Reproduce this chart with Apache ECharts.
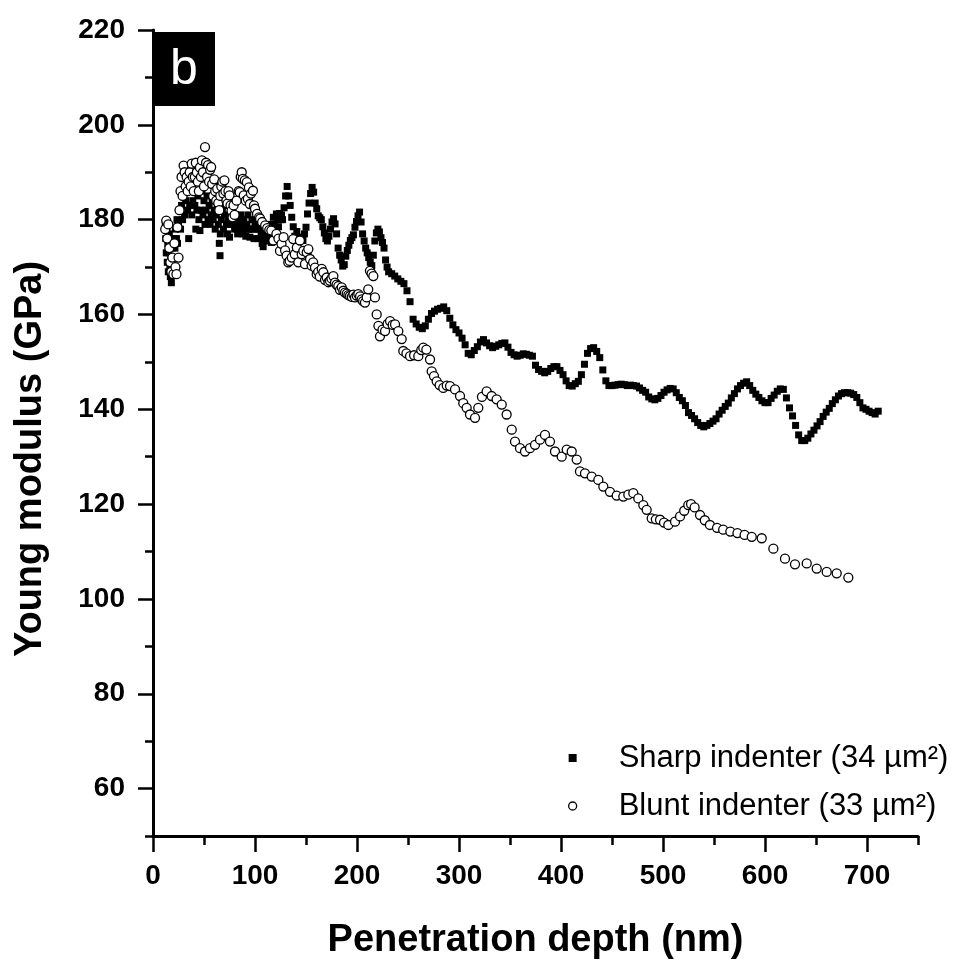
<!DOCTYPE html>
<html><head><meta charset="utf-8">
<script src="https://cdn.jsdelivr.net/npm/echarts@6/dist/echarts.min.js"></script>
<style>html,body{margin:0;padding:0;background:#fff}#c{width:960px;height:965px}</style>
</head><body><div id="c"></div>
<script>
// Sharp indenter: [depth nm, modulus GPa]
const sharpEarly = [[12,179],[12.5,176],[13,173],[13.5,178],[14,171],[14.5,175],[15,169],[15.5,173],[16,177],[16.5,170],[17,168],[17.5,172],[18,166.7],[18.5,170],[19,174],[19.5,168.5],[20,172],[20.5,176],[21,170],[21.5,174],[22,178],[22.5,172],[23,176],[23.5,180],[24,175],[25,179],[26,182],[27,178],[28,183],[29,180],[30,185],[31,181],[32,184],[33,187],[34,182],[35,176],[36,183],[37,186],[38,181],[39,184],[40,188],[41,183],[42,178],[43,182],[44,185],[45,180],[46,177.7],[47,182],[48,186],[49,181],[50,184],[51,179],[52,182],[53,185],[54,180],[55,183],[56,179],[57,181],[58,184],[59,180],[60,182],[61,178],[62,181],[63,183],[64,179],[65,175],[65.7,172.4],[66,177],[67,180],[68,182],[69,178],[70,181],[71,183],[72,179],[73,177],[74,180],[75,176.3],[76,179],[77,181],[78,183],[79,180],[80,178],[81,181],[82,179],[83,177],[84,180],[85,178],[86,181],[87,179],[88,177],[89,180],[90,178],[91,176.5],[92,179],[93,181],[94,178],[95,176.3],[96,178],[97,180],[98,178],[99,176],[100,179],[101,181],[102,178],[103,176],[104,178],[105,180],[106,177],[107,175],[108,174.3],[109,176],[110,178],[111,177],[112,175.5],[113,177],[114,179],[115,176],[116,175.2],[117,177],[118,180.5],[119,179],[120,178],[121,181.2],[122,180],[123,178.5],[124,181.3],[125,180],[126,181],[127,180]];
const sharpMid = [[128.5,182.5],[130,185],[131.5,187],[133,185],[134.5,183],[136,180.5],[137.5,178.5],[139,176.5],[141,177.5],[143,176.3],[145,175.8],[147,175.6],[148.5,177],[150,178.4],[151.5,181.2],[153,183.5],[154.5,185.5],[156,186.8],[157.5,185.8],[159,183.5],[160.5,182.3],[162,180.8],[163.5,180.4],[165,180],[166.5,178.5],[168,177.2],[169.5,176],[171,175.5],[172.5,176.5],[174,178],[175.5,179.5],[177,180.2],[178.5,179.1],[180,177],[181.5,174],[183,172.5],[184.5,171.5],[186,170.2],[187.5,170.5],[189,172.3],[190.5,173.5],[192,174.6],[193.5,175.6],[195,176.2],[196.5,176.8],[198,178.4],[199.5,179.6],[201,180.8],[202.5,181.6],[204,179.5],[205.5,177],[207,175.5],[208.5,174],[210,173],[211.5,172],[213,171],[214.5,170.3],[216,172.5],[217.5,175.5],[219,177.2],[220.5,178],[222,177.4],[223.5,176.2],[225,175.2],[226.5,174],[228,171.5],[229.5,170]];
const sharpLate = [[231,169.0],[234,168.6],[237,168.1],[240,167.5],[243,167.0],[246,166.5],[249,165.0],[252,162.7],[255,159.0],[258,158.0],[261,157.3],[264,157.0],[267,157.6],[270,159.0],[273,160.2],[276,160.7],[279,161.1],[282,161.3],[285,161.6],[288,160.8],[291,159.2],[294,157.8],[297,156.8],[300,156.1],[303,155.0],[306,153.6],[309,151.8],[312,151.5],[315,152.4],[318,153.2],[321,154.2],[324,154.7],[327,154.0],[330,153.4],[333,153.0],[336,153.3],[339,153.6],[342,153.9],[345,154.0],[348,153.1],[351,152.0],[354,151.5],[357,151.2],[360,151.4],[363,151.7],[366,151.6],[369,151.4],[372,151.2],[375,149.3],[378,148.4],[381,148.0],[384,147.7],[387,148.0],[390,148.6],[393,149.0],[396,149.0],[399,148.2],[402,147.3],[405,146.0],[408,145.0],[411,144.9],[414,145.4],[417,145.9],[420,147.3],[423,149.5],[426,151.8],[429,152.8],[432,153.0],[435,152.2],[438,150.9],[441,148.3],[444,146.0],[447,145.0],[450,145.0],[453,145.1],[456,145.2],[459,145.3],[462,145.2],[465,145.0],[468,145.1],[471,145.0],[474,144.9],[477,144.5],[480,144.0],[483,143.6],[486,142.6],[489,142.2],[492,142.0],[495,142.3],[498,142.9],[501,143.6],[504,144.1],[507,144.4],[510,144.3],[513,143.5],[516,142.5],[519,141.8],[522,140.8],[525,139.3],[528,138.7],[531,138.0],[534,137.2],[537,136.6],[540,136.3],[543,136.6],[546,137.0],[549,137.5],[552,138.0],[555,139.0],[558,139.8],[561,140.6],[564,141.3],[567,142.4],[570,143.3],[573,144.3],[576,145.0],[579,145.5],[582,145.8],[585,145.0],[588,144.0],[591,143.2],[594,142.5],[597,141.8],[600,141.4],[603,141.4],[606,142.3],[609,143.0],[612,143.8],[615,144.3],[618,144.2],[621,142.4],[624,140.3],[627,138.6],[630,136.6],[633,134.6],[636,133.4],[639,133.4],[642,133.9],[645,134.8],[648,135.6],[651,136.5],[654,137.4],[657,138.5],[660,139.4],[663,140.2],[666,141.2],[669,142.0],[672,142.8],[675,143.3],[678,143.5],[681,143.5],[684,143.4],[687,143.1],[690,142.5],[693,141.4],[696,140.3],[699,140.0],[702,139.6],[705,139.3],[708,139.0],[711,139.6]];

// Blunt indenter: [depth nm, modulus GPa]
const bluntEarly = [[12,178],[13,179.8],[14,176],[15,179],[16,174],[17,171],[18,169],[19,172],[20,168.5],[21,175],[22,170],[23,168.5],[24,178.4],[25,172],[26,182],[27,186],[28,189],[29,185],[30,191.4],[31,190],[32,187],[33,189],[34,186],[35,188],[36,190],[37,187],[38,191.8],[39,189],[40,186],[41,189],[42,192],[43,190],[44,188],[45,186],[46,191],[47,189],[48,192.5],[49,190],[50,187],[51,195.3],[52,192],[53,189],[54,191.5],[55,188],[56,190.5],[57,191.1],[58,187.5],[59,185],[60,188.5],[61,186],[62,184],[63,186.5],[64,183.5],[65,182],[66,185],[67,187],[68,188],[69,185.5],[70,188.3],[71,186],[72,184],[73,183.4],[74,186],[75,185.1],[76,183],[77,181.9],[78,180.5],[79,183],[80,181],[82,184],[84,186],[85,185.8],[86,189],[87,190],[88,188.6],[89,185.1],[90,188.3],[91,184],[92,187.9],[93,184.4],[94,186.8],[95,183.3],[96,185.5],[98,186.1],[99,183],[100,182.3],[102,181.2],[104,180.5],[105,180.2],[107,179.5],[110,178.8],[112,178.2],[114,177.8],[116,177.7],[118,175.6],[121,177],[123,176],[124.5,173.4],[126,174.9],[128,176.3],[129.5,173.5],[131,172.4],[132.6,171],[134,171.3],[136,172],[137.5,175.9],[139,172.7],[141,174.1],[142.5,171],[144,175.6],[145.8,172.7],[147.4,173.4],[149,170.6],[150.7,173.1],[152.3,173.8],[154,171.7],[155.5,170.3],[157,171],[158.8,169.9],[160.5,168.5],[162,169],[163.5,168],[165.4,169.6],[167,168.9],[168.6,167.3],[170.3,167.8],[172,166.8],[173.5,167.1],[175,167.6],[176.8,168.1],[178.4,166.7],[180,166.3],[181.7,166],[183.3,165.2],[185,165.7],[186.6,165],[188.2,164.6],[190,164.4],[191.5,164.1],[193.1,163.9],[195,163.7],[196.5,164.2],[198,163.6],[199.7,164],[201.3,164.3],[203,163.8],[204.6,163.2],[206,162.8],[207.8,162.5],[209.5,163.6],[211,165.3],[212.7,169.2],[214.3,168.6]];
const bluntLate = [[216,168.1],[217.6,163.6],[219.3,160],[221,157.6],[222.5,155.4],[225,156.8],[227.5,156.5],[230,158],[232.4,158.6],[235,157.8],[237.3,157.9],[240.5,156.5],[243.8,154.8],[245.4,152.3],[248.5,151.8],[252,151.2],[256,151.4],[260.1,151.2],[263,152.5],[265,153],[268,152.6],[271.6,150.5],[273.2,148],[275.5,147],[278.1,145.9],[281,145.1],[284.6,144.5],[288,145],[291.2,144.9],[296.1,144.2],[301,142.8],[304.2,141.3],[307.5,140.3],[310.8,138.9],[315.7,138.2],[318.9,140.3],[322.5,142.6],[327.1,143.8],[332,142.8],[336.9,142.1],[341.9,141],[346.7,138.9],[351.7,135.7],[354.9,133.2],[359.8,131.8],[364.7,131.1],[369.6,131.8],[374.5,132.5],[379.4,133.6],[384.3,134.6],[389.2,133.2],[394.1,131.1],[400.7,130],[405.6,131.5],[410.5,131.1],[415.4,129.4],[418.6,126.9],[423.5,126.5],[430.1,125.8],[436.6,125.1],[441.5,123.7],[448,122.6],[454.6,121.8],[461.1,121.6],[466,122],[470.9,122.3],[475.8,121.2],[480.7,119.8],[484,118.8],[488.9,117],[493,116.8],[497.1,116.7],[501,116.1],[505.2,115.6],[511.8,116.3],[516.7,117.4],[520.8,118.6],[524.8,119.8],[527.5,120],[531,119.3],[536.3,117.7],[541,116.6],[546,115.6],[553,115],[559,114.6],[566,114.2],[573,113.9],[580,113.5],[587,113.1],[596.8,112.8],[608.2,110.6],[619.6,108.5],[629.4,107.3],[640.9,107.5],[650.7,106.4],[660.5,105.7],[670.3,105.4],[681.7,104.5]];

const xMajorTicks = [0,100,200,300,400,500,600,700];
const yMajorTicks = [60,80,100,120,140,160,180,200,220];
const seriesNames = ['Sharp indenter (34 \u00b5m\u00b2)', 'Blunt indenter (33 \u00b5m\u00b2)'];

const FONT = '"Liberation Sans", Arial, Helvetica, sans-serif';
const chart = echarts.init(document.getElementById('c'), null, {renderer:'canvas'});

const tickStyle = {color:'#000', width:2.5};
const option = {
  animation:false,
  backgroundColor:'#fff',
  grid:{left:153, right:42, top:30, bottom:129},
  xAxis:[{
    type:'value', min:0, max:750, interval:50,
    axisLine:{lineStyle:{color:'#000', width:3}},
    axisTick:{length:9, lineStyle:tickStyle},
    axisLabel:{margin:26, color:'#000', fontSize:28, fontWeight:'bold', fontFamily:FONT,
      formatter:v => xMajorTicks.indexOf(v) >= 0 ? String(v) : ''},
    splitLine:{show:false},
    name:'Penetration depth (nm)', nameLocation:'middle', nameGap:86,
    nameTextStyle:{fontSize:38, fontWeight:'bold', color:'#000', fontFamily:FONT}
  },{
    type:'value', min:0, max:750, position:'bottom', gridIndex:0,
    axisLine:{show:false}, axisLabel:{show:false}, splitLine:{show:false},
    axisTick:{customValues:xMajorTicks, length:16, lineStyle:tickStyle}
  }],
  yAxis:[{
    type:'value', min:50, max:220, interval:10,
    axisLine:{show:true, lineStyle:{color:'#000', width:3}},
    axisTick:{show:true, length:8, lineStyle:tickStyle},
    axisLabel:{margin:28, color:'#000', fontSize:28, fontWeight:'bold', fontFamily:FONT,
      formatter:v => yMajorTicks.indexOf(v) >= 0 ? String(v) : ''},
    splitLine:{show:false}
  },{
    type:'value', min:50, max:220, position:'left', gridIndex:0,
    axisLine:{show:false}, axisLabel:{show:false}, splitLine:{show:false},
    axisTick:{show:true, customValues:yMajorTicks, length:15, lineStyle:tickStyle}
  }],
  legend:{
    orient:'vertical', left:563, top:735, itemGap:12,
    itemWidth:8, itemHeight:8, selectedMode:false,
    textStyle:{fontSize:31, color:'#000', fontFamily:FONT, lineHeight:36, padding:[0,0,0,37]},
    data:[
      {name:seriesNames[0], icon:'rect', itemStyle:{color:'#000', borderWidth:0}},
      {name:seriesNames[1], icon:'circle', itemStyle:{color:'#fff', borderColor:'#000', borderWidth:1.3}}
    ]
  },
  graphic:[
    {type:'rect', shape:{x:153, y:32, width:62, height:74}, style:{fill:'#000'}, z:100},
    {type:'text', x:184, y:70, z:101, style:{text:'b', fill:'#fff', font:'50px ' + FONT,
      align:'center', verticalAlign:'middle', textAlign:'center', textVerticalAlign:'middle'}},
    {type:'text', x:31, y:459, rotation:Math.PI/2, z:101, style:{text:'Young modulus (GPa)', fill:'#000',
      font:'bold 38px ' + FONT, align:'center', verticalAlign:'middle', textAlign:'center', textVerticalAlign:'middle'}}
  ],
  series:[
    {name:seriesNames[0], type:'scatter', xAxisIndex:0, yAxisIndex:0, symbol:'rect', symbolSize:7,
     itemStyle:{color:'#000', opacity:1}, data:sharpEarly.concat(sharpMid, sharpLate), z:2},
    {name:seriesNames[1], type:'scatter', xAxisIndex:0, yAxisIndex:0, symbol:'circle', symbolSize:9,
     itemStyle:{color:'#fff', borderColor:'#000', borderWidth:1.3, opacity:1}, data:bluntEarly.concat(bluntLate), z:3}
  ]
};
chart.setOption(option);
</script>
</body></html>
